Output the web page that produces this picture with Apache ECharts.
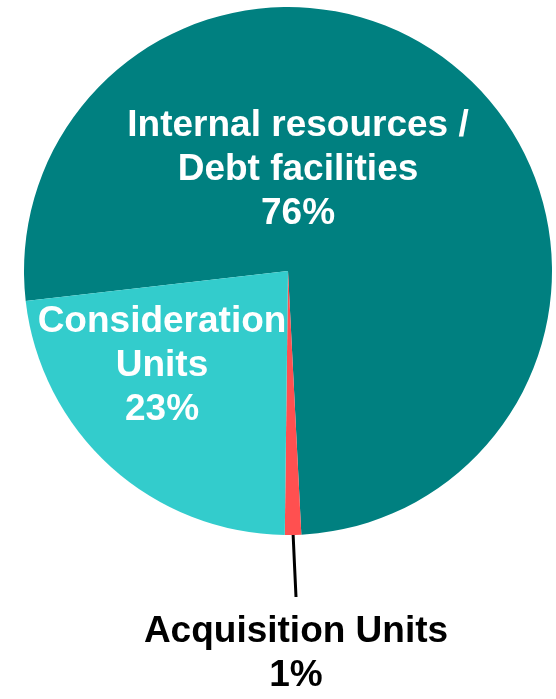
<!DOCTYPE html>
<html>
<head>
<meta charset="utf-8">
<script src="https://cdn.jsdelivr.net/npm/echarts@6/dist/echarts.min.js"></script>
<style>
  html, body { margin: 0; padding: 0; background: #fff; }
  #fundingMix { width: 556px; height: 699px; }
</style>
</head>
<body>
<div id="fundingMix"></div>
<script>
// 数据
const sliceNames = ['Internal resources /\nDebt facilities', 'Acquisition Units', 'Consideration\nUnits']
const sliceValues = [76, 1, 23]
const sliceColors = ['#008080', '#FF5050', '#33CCCC']

const chart = echarts.init(document.getElementById('fundingMix'))

// label centres (px), in slice order
const labelSpots = [[298, 170], [296, 654], [162, 366]]

const option = {
  backgroundColor: '#fff',
  animation: false,
  series: [{
    type: 'pie',
    center: [288, 271],
    radius: 264,
    startAngle: 186.5,
    clockwise: true,
    silent: true,
    data: sliceNames.map((name, i) => ({
      name: name,
      value: sliceValues[i],
      itemStyle: { color: sliceColors[i] },
      label: {
        color: i === 1 ? '#000' : '#fff',
        position: i === 1 ? 'outside' : 'inside',
        overflow: 'none',
        width: 400
      },
      labelLine: { show: i === 1 }
    })),
    itemStyle: { borderWidth: 0 },
    label: {
      show: true,
      formatter: '{b}\n{d}%',
      fontFamily: '"Liberation Sans", Arial, sans-serif',
      fontWeight: 'bold',
      fontSize: 37,
      lineHeight: 44,
      align: 'center'
    },
    labelLine: {
      lineStyle: { color: '#000', width: 3 }
    },
    labelLayout: function (params) {
      const spot = labelSpots[params.dataIndex]
      const res = { x: spot[0], y: spot[1], align: 'center', verticalAlign: 'middle' }
      if (params.dataIndex === 1) {
        res.labelLinePoints = [[293, 532], [294.5, 565], [296, 597]]
      }
      return res
    },
    emphasis: { disabled: true }
  }]
}

chart.setOption(option)
</script>
</body>
</html>
